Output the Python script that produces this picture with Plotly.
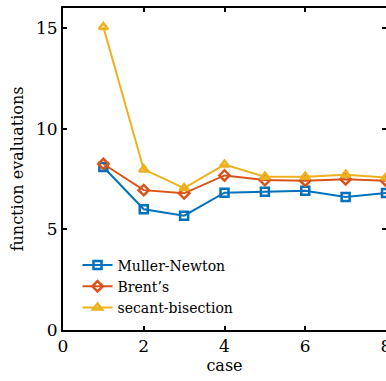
import plotly.graph_objects as go

cases = [1, 2, 3, 4, 5, 6, 7, 8]
muller_newton = [8.1, 6.0, 5.68, 6.82, 6.87, 6.92, 6.61, 6.81]
brents = [8.25, 6.95, 6.79, 7.68, 7.45, 7.42, 7.49, 7.42]
secant_bisection = [15.05, 7.98, 7.05, 8.22, 7.62, 7.62, 7.72, 7.58]

x_ticks = [0, 2, 4, 6, 8]
y_ticks = [0, 5, 10, 15]

FONT = "DejaVu Serif"

fig = go.Figure()
series = [
    ("Muller-Newton", muller_newton, "#0072BD", "square-open"),
    ("Brent\u2019s", brents, "#D95319", "diamond-open"),
    ("secant-bisection", secant_bisection, "#EDB120", "triangle-up-open"),
]
for name, ys, color, sym in series:
    fig.add_trace(go.Scatter(
        x=cases, y=ys, name=name, mode="lines+markers",
        line=dict(color=color, width=2),
        marker=dict(symbol=sym, size=8, color=color, line=dict(color=color, width=2.5)),
    ))

axis_common = dict(
    showline=True, linecolor="black", linewidth=2, mirror="ticks",
    ticks="inside", ticklen=4, tickwidth=1.5, tickcolor="black",
    showgrid=False, zeroline=False, ticklabeloverflow="allow",
    tickfont=dict(family=FONT, size=17, color="black"),
)

fig.update_layout(
    width=386, height=381,
    margin=dict(l=63, r=0, t=8, b=51, autoexpand=False),
    paper_bgcolor="white", plot_bgcolor="white",
    font=dict(family=FONT, color="black"),
    xaxis=dict(range=[0, 8], tickvals=x_ticks, ticktext=[str(v) for v in x_ticks],
               title=dict(text="case", font=dict(family=FONT, size=16), standoff=2),
               **axis_common),
    yaxis=dict(range=[0, 16], tickvals=y_ticks, ticktext=[str(v) for v in y_ticks],
               title=dict(text="function evaluations", font=dict(family=FONT, size=16), standoff=8),
               **axis_common),
    legend=dict(x=0.045, y=0.25, xanchor="left", yanchor="top",
                bgcolor="rgba(0,0,0,0)", borderwidth=0,
                font=dict(family=FONT, size=14, color="black"),
                itemwidth=30, tracegroupgap=0),
    showlegend=True,
)

fig.write_html("out.html")
